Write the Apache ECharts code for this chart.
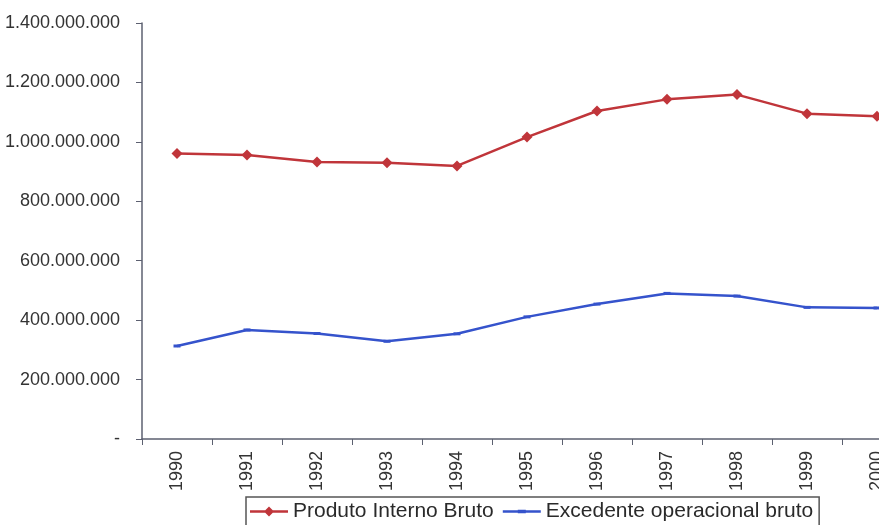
<!DOCTYPE html>
<html>
<head>
<meta charset="utf-8">
<script src="https://cdn.jsdelivr.net/npm/echarts@6/dist/echarts.min.js"></script>
<style>
html,body{margin:0;padding:0;background:#fff;}
#chart{width:879px;height:525px;}
</style>
</head>
<body>
<div id="chart"></div>
<script>
const years = ['1990','1991','1992','1993','1994','1995','1996','1997','1998','1999','2000'];
const pib = [961000000, 956000000, 932000000, 930000000, 919000000, 1016000000, 1104000000, 1143000000, 1159000000, 1095000000, 1086000000];
const excedente = [313000000, 367000000, 355000000, 329000000, 354000000, 411000000, 454000000, 490000000, 481000000, 443000000, 441000000];
const seriesNames = ['Produto Interno Bruto', 'Excedente operacional bruto'];

function fmt(v){
  if (v === 0) return '-';
  return String(v).replace(/\B(?=(\d{3})+(?!\d))/g, '.');
}

const chart = echarts.init(document.getElementById('chart'));
const axisCol = '#5c6070';
const blueLegendIcon = 'path://M0,0L0.01,0L0,0.01Z M0,12L0.01,12L0,11.99Z M0,4.75L38,4.75L38,7.25L0,7.25Z M15,4.2L23,4.2L23,7.8L15,7.8Z';
const redLegendIcon = 'path://M0,0L0.01,0L0,0.01Z M0,12L0.01,12L0,11.99Z M0,4.75L38,4.75L38,7.25L0,7.25Z M19,1L24,6L19,11L14,6Z';
chart.setOption({
  backgroundColor: '#ffffff',
  animation: false,
  grid: {left: 142, top: 23, width: 770, height: 416, containLabel: false, outerBoundsMode: 'none'},
  legend: {
    left: 246, top: 497,
    padding: [4, 6, 10, 4],
    borderColor: '#555', borderWidth: 1.5,
    itemWidth: 38, itemHeight: 12, itemGap: 9,
    textStyle: {fontFamily: 'Liberation Sans', fontSize: 21, color: '#2a2a2a'},
    data: [
      {name: seriesNames[0], icon: redLegendIcon},
      {name: seriesNames[1], icon: blueLegendIcon}
    ]
  },
  xAxis: {
    type: 'category',
    data: years,
    boundaryGap: true,
    axisLine: {lineStyle: {color: axisCol, width: 1.5}},
    axisTick: {show: true, length: 6, lineStyle: {color: axisCol}},
    axisLabel: {rotate: 90, margin: 12, fontFamily: 'Liberation Sans', fontSize: 18, color: '#333'},
    splitLine: {show: false}
  },
  yAxis: {
    type: 'value',
    min: 0, max: 1400000000, interval: 200000000,
    axisLine: {show: true, lineStyle: {color: axisCol, width: 1.5}},
    axisTick: {show: true, length: 6, lineStyle: {color: axisCol}},
    axisLabel: {formatter: fmt, margin: 22, fontFamily: 'Liberation Sans', fontSize: 18, color: '#333'},
    splitLine: {show: false}
  },
  series: [
    {
      name: seriesNames[0], type: 'line', data: pib,
      symbol: 'diamond', symbolSize: 11,
      lineStyle: {color: '#c0353a', width: 2.5},
      itemStyle: {color: '#c0353a'}
    },
    {
      name: seriesNames[1], type: 'line', data: excedente,
      symbol: 'rect', symbolSize: [7, 3],
      lineStyle: {color: '#3553cc', width: 2.5},
      itemStyle: {color: '#3553cc'}
    }
  ]
});
</script>
</body>
</html>
